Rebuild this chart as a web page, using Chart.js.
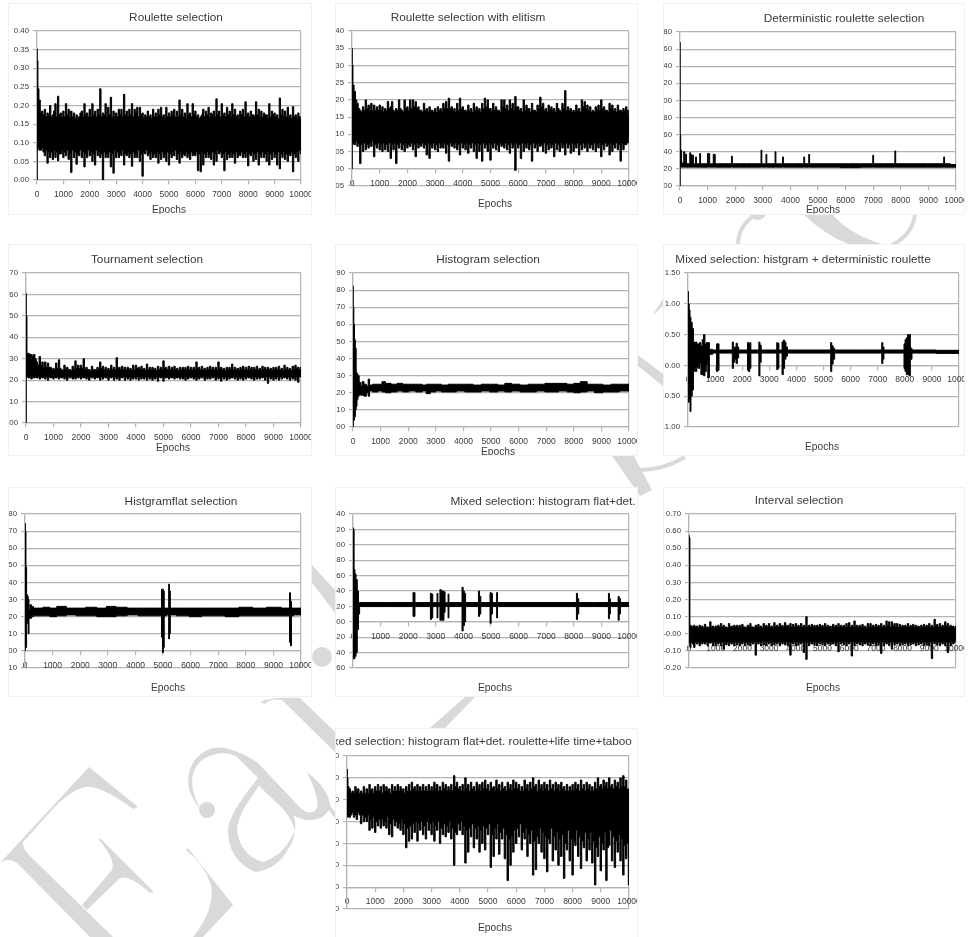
<!DOCTYPE html>
<html>
<head>
<meta charset="utf-8">
<title>Selection methods</title>
<script src="https://cdn.jsdelivr.net/npm/chart.js@4/dist/chart.umd.min.js"></script>
<style>
  html, body { margin: 0; background: #fff; }
  #page { position: relative; width: 969px; height: 937px; overflow: hidden; background: #fff; }
  #mark { position: absolute; left: 0; top: 0; }
  canvas { position: absolute; background: #fff; outline: 1px solid #f1f1f1; outline-offset: -1px; filter: blur(.3px); }
</style>
</head>
<body>
<div id="page">
  <svg id="mark" width="969" height="937" aria-hidden="true" fill="#d9d9d9">
    <path d="M0 863L89 767L138 807L133 809Q100 785 85 787Q70 790 50 812L23 842Q22 848 30 856L113 937L90 937L20 866Q10 856 0 863Z"/>
    <path d="M100 838L154 892L150 893Q130 875 120 878L87 910L82 905L112 870Q116 860 99 840Z"/>
    <path d="M188 848L233 905L203 937L193 937Q215 910 211 885Q205 865 186 850Z"/>
    <circle cx="207" cy="810" r="8"/>
    <path d="M201 810Q188 795 188 780Q190 755 213 748Q230 745 257 762L293 800Q305 815 312 812Q325 810 307 772Q330 790 330 807Q325 820 310 820Q300 820 293 815L258 778L237 757Q225 750 213 755Q194 760 192 780Q192 795 201 810Z"/>
    <path fill-rule="evenodd" d="M258 778Q228 815 228 830Q228 860 255 872Q280 870 293 840Q300 820 287 805ZM259 786Q237 815 237 830Q240 855 263 862Q285 855 295 830Q290 815 279 805Z"/>
    <path d="M260 702Q270 697 300 698L335 732L335 752L282 700Q270 698 265 704Z"/>
    <path d="M312 565L335 590L335 613L320 593L312 583Z"/>
    <circle cx="322" cy="657" r="10"/>
    <path d="M430 728L465 697L475 697L445 728Z"/>
    <path d="M320 792L335 812L335 818L320 800Z"/>
    <circle cx="758" cy="212" r="8"/>
    <path d="M803 214L832 214Q850 235 885 245L850 245Q825 235 803 214Z"/>
    <path d="M652 316L663 299L663 306Z"/>
    <path d="M638 355L663 374L663 386L638 366Z"/>
    <path d="M612 456L634 456L652 490L640 496Z"/>
    <g fill="none" stroke="#d9d9d9" stroke-width="4">
      <path d="M752 217Q738 228 738 245"/>
      <path d="M915 215Q912 235 892 245"/>
      <path d="M632 470Q660 472 685 457"/>
    </g>
  </svg>
</div>
<script>
// x positions shared by the noisy runs, one row per 500 epochs
const epochsDense = [
  0,20,50,100,150,200,250,300,350,400,450,
  500,550,600,650,700,750,800,850,900,950,
  1000,1050,1100,1150,1200,1250,1300,1350,1400,1450,
  1500,1550,1600,1650,1700,1750,1800,1850,1900,1950,
  2000,2050,2100,2150,2200,2250,2300,2350,2400,2450,
  2500,2550,2600,2650,2700,2750,2800,2850,2900,2950,
  3000,3050,3100,3150,3200,3250,3300,3350,3400,3450,
  3500,3550,3600,3650,3700,3750,3800,3850,3900,3950,
  4000,4050,4100,4150,4200,4250,4300,4350,4400,4450,
  4500,4550,4600,4650,4700,4750,4800,4850,4900,4950,
  5000,5050,5100,5150,5200,5250,5300,5350,5400,5450,
  5500,5550,5600,5650,5700,5750,5800,5850,5900,5950,
  6000,6050,6100,6150,6200,6250,6300,6350,6400,6450,
  6500,6550,6600,6650,6700,6750,6800,6850,6900,6950,
  7000,7050,7100,7150,7200,7250,7300,7350,7400,7450,
  7500,7550,7600,7650,7700,7750,7800,7850,7900,7950,
  8000,8050,8100,8150,8200,8250,8300,8350,8400,8450,
  8500,8550,8600,8650,8700,8750,8800,8850,8900,8950,
  9000,9050,9100,9150,9200,9250,9300,9350,9400,9450,
  9500,9550,9600,9650,9700,9750,9800,9850,9900,9950,
  10000];

// Roulette selection
const rouletteHi = [
  .352,.32,.245,.215,.18,.185,.175,.19,.17,.18,.175,
  .2,.17,.175,.185,.205,.17,.225,.175,.18,.17,
  .185,.17,.205,.175,.19,.17,.185,.17,.18,.165,
  .175,.165,.17,.18,.185,.17,.205,.175,.18,.17,
  .19,.17,.205,.175,.185,.17,.19,.175,.245,.17,
  .18,.175,.205,.17,.195,.175,.222,.17,.185,.17,
  .18,.17,.19,.175,.19,.17,.23,.175,.185,.17,
  .19,.175,.205,.17,.19,.18,.195,.17,.195,.175,
  .18,.165,.175,.17,.185,.17,.175,.165,.19,.17,
  .18,.17,.19,.175,.195,.17,.175,.165,.195,.17,
  .18,.17,.185,.175,.19,.17,.185,.17,.215,.175,
  .19,.17,.18,.165,.205,.175,.18,.17,.205,.175,
  .185,.17,.175,.165,.17,.175,.19,.17,.185,.175,
  .195,.17,.18,.175,.185,.17,.218,.175,.185,.17,
  .205,.175,.18,.17,.195,.175,.185,.17,.205,.175,
  .19,.17,.175,.165,.185,.175,.19,.17,.21,.175,
  .18,.17,.185,.175,.175,.17,.21,.175,.19,.17,
  .185,.17,.18,.175,.175,.165,.205,.17,.185,.175,
  .18,.17,.175,.165,.22,.175,.19,.17,.185,.17,
  .195,.17,.175,.165,.197,.17,.175,.165,.18,.17,
  .16];
const rouletteLo = [
  0,.08,.085,.08,.08,.085,.075,.065,.08,.045,.075,
  .06,.075,.055,.08,.06,.075,.052,.07,.07,.08,
  .06,.075,.065,.08,.055,.07,.02,.08,.06,.075,
  .042,.07,.065,.08,.06,.075,.035,.07,.06,.08,
  .065,.075,.05,.07,.04,.08,.065,.075,.06,.07,
  0,.075,.06,.07,.06,.075,.035,.07,.018,.08,
  .06,.075,.06,.07,.065,.08,.04,.07,.065,.075,
  .06,.07,.037,.075,.06,.07,.06,.08,.05,.07,
  .01,.075,.07,.08,.065,.07,.055,.075,.06,.07,
  .06,.075,.045,.07,.055,.075,.06,.07,.05,.075,
  .04,.07,.06,.075,.065,.08,.055,.07,.045,.075,
  .06,.07,.065,.075,.06,.07,.055,.075,.065,.07,
  .065,.075,.025,.07,.022,.075,.04,.07,.06,.075,
  .06,.07,.055,.075,.04,.07,.05,.08,.07,.075,
  .06,.07,.025,.075,.055,.07,.06,.075,.06,.07,
  .045,.075,.06,.07,.065,.075,.06,.07,.06,.075,
  .038,.07,.065,.075,.05,.07,.055,.075,.04,.07,
  .06,.075,.06,.07,.05,.075,.04,.07,.055,.075,
  .06,.07,.04,.075,.03,.07,.06,.075,.055,.07,
  .05,.07,.065,.075,.022,.07,.06,.075,.05,.08,
  .07];

// Roulette selection with elitism
const elitismHi = [
  .35,.3,.243,.225,.2,.19,.175,.17,.165,.18,.17,
  .2,.175,.185,.17,.19,.17,.185,.17,.18,.17,
  .185,.17,.18,.165,.175,.17,.195,.175,.18,.195,
  .17,.165,.175,.17,.2,.175,.17,.165,.2,.175,
  .18,.17,.2,.175,.2,.18,.195,.175,.18,.17,
  .17,.165,.19,.17,.175,.165,.18,.17,.17,.165,
  .175,.165,.18,.17,.175,.165,.19,.175,.195,.175,
  .205,.175,.18,.17,.175,.165,.19,.17,.205,.175,
  .18,.17,.17,.165,.185,.17,.175,.165,.19,.17,
  .18,.17,.175,.165,.19,.175,.205,.18,.2,.175,
  .175,.165,.19,.17,.18,.17,.17,.165,.2,.18,
  .2,.175,.185,.17,.2,.175,.19,.17,.21,.18,
  .18,.17,.175,.165,.2,.17,.185,.175,.175,.165,
  .19,.17,.17,.165,.185,.175,.208,.18,.19,.17,
  .175,.165,.185,.17,.18,.17,.175,.165,.19,.175,
  .17,.165,.19,.175,.227,.17,.18,.17,.175,.165,
  .17,.165,.185,.17,.175,.165,.2,.18,.195,.175,
  .185,.17,.18,.165,.17,.165,.18,.17,.185,.17,
  .2,.175,.18,.17,.17,.165,.19,.175,.185,.17,
  .175,.165,.185,.17,.17,.165,.175,.17,.18,.17,
  .15];
const elitismLo = [
  0,.07,.075,.07,.08,.065,.075,.015,.07,.05,.075,
  .055,.07,.06,.075,.065,.08,.035,.07,.06,.075,
  .055,.07,.05,.075,.055,.07,.05,.075,.03,.07,
  .055,.075,.015,.07,.06,.075,.055,.07,.05,.075,
  .06,.07,.065,.075,.055,.07,.035,.075,.06,.07,
  .065,.075,.06,.07,.04,.075,.03,.07,.06,.075,
  .055,.07,.05,.075,.06,.07,.06,.075,.045,.07,
  .022,.075,.065,.07,.06,.075,.055,.07,.04,.075,
  .06,.07,.055,.075,.045,.07,.06,.075,.05,.07,
  .03,.075,.05,.07,.022,.075,.06,.07,.05,.075,
  .025,.07,.06,.075,.055,.07,.05,.075,.065,.07,
  .06,.075,.055,.07,.045,.075,.06,.07,-.005,.075,
  .06,.07,.03,.075,.05,.07,.06,.075,.055,.07,
  .022,.075,.06,.07,.05,.075,.065,.07,.05,.075,
  .045,.07,.055,.075,.06,.07,.035,.075,.055,.07,
  .05,.075,.06,.07,.04,.075,.06,.07,.045,.075,
  .05,.07,.06,.075,.04,.07,.055,.075,.06,.07,
  .05,.075,.06,.07,.055,.075,.05,.07,.06,.075,
  .035,.07,.055,.075,.065,.07,.04,.075,.05,.07,
  .06,.075,.055,.07,.022,.075,.055,.07,.07,.075,
  .09];

// Deterministic roulette selection
const deterministicX = [
  0,15,35,50,65,110,160,190,220,250,
  340,370,400,440,470,500,550,580,610,700,
  730,760,980,1010,1035,1060,1090,1190,1220,1260,
  1290,1850,1880,1910,2400,2600,2920,2950,2980,3100,
  3130,3160,3430,3460,3490,3700,3730,3760,4470,4500,
  4530,4650,4680,4710,5500,6100,6970,7000,7030,7770,
  7800,7830,8400,9540,9570,9600,10000];
const deterministicHi = [
  1.68,.6,.3,.42,.27,.27,.4,.27,.37,.26,
  .26,.39,.37,.26,.36,.26,.26,.34,.26,.26,
  .38,.26,.26,.38,.27,.38,.26,.26,.37,.37,
  .26,.26,.35,.26,.26,.26,.26,.42,.26,.26,
  .37,.26,.26,.4,.26,.26,.34,.26,.26,.34,
  .26,.26,.37,.26,.26,.26,.26,.36,.26,.26,
  .41,.26,.26,.26,.34,.26,.25];
const deterministicLo = [
  0,.22,.22,.22,.22,.22,.22,.22,.22,.22,
  .22,.22,.22,.22,.22,.22,.22,.22,.22,.22,
  .22,.22,.22,.22,.22,.22,.22,.22,.22,.22,
  .22,.22,.22,.22,.22,.22,.22,.22,.22,.22,
  .22,.22,.22,.22,.22,.22,.22,.22,.22,.22,
  .22,.22,.22,.22,.22,.215,.22,.22,.22,.22,
  .22,.22,.22,.22,.22,.22,.22];

// Tournament selection
const tournamentHi = [
  .605,.5,.325,.325,.32,.32,.31,.32,.3,.285,.27,
  .31,.27,.285,.26,.285,.26,.28,.26,.26,.25,
  .255,.25,.28,.255,.295,.255,.25,.245,.27,.25,
  .26,.25,.25,.245,.265,.25,.29,.255,.27,.255,
  .27,.255,.3,.25,.26,.25,.25,.245,.265,.25,
  .25,.245,.26,.25,.285,.255,.265,.25,.26,.25,
  .255,.245,.27,.25,.26,.25,.305,.255,.26,.25,
  .265,.25,.26,.25,.26,.25,.255,.245,.27,.25,
  .27,.255,.26,.25,.265,.25,.255,.245,.275,.25,
  .26,.25,.26,.25,.255,.245,.265,.25,.26,.25,
  .29,.255,.26,.25,.265,.25,.26,.25,.265,.25,
  .255,.245,.26,.25,.26,.25,.26,.25,.265,.25,
  .26,.25,.26,.25,.285,.255,.26,.25,.265,.25,
  .255,.245,.26,.25,.265,.25,.26,.25,.26,.25,
  .285,.255,.26,.25,.255,.245,.26,.25,.26,.25,
  .275,.25,.26,.25,.255,.245,.26,.25,.265,.25,
  .26,.25,.265,.25,.26,.25,.26,.25,.265,.25,
  .255,.245,.265,.25,.26,.25,.26,.25,.255,.245,
  .26,.25,.26,.25,.265,.25,.255,.245,.27,.25,
  .26,.25,.255,.245,.265,.25,.27,.255,.26,.25,
  .26];
const tournamentLo = [
  0,.22,.215,.21,.215,.205,.215,.21,.215,.21,.215,
  .205,.215,.21,.215,.205,.215,.2,.215,.21,.215,
  .205,.215,.21,.215,.205,.215,.21,.215,.205,.215,
  .2,.215,.21,.215,.205,.215,.205,.215,.21,.215,
  .205,.215,.21,.215,.205,.215,.2,.215,.21,.215,
  .205,.215,.21,.215,.2,.215,.205,.215,.21,.215,
  .2,.215,.21,.215,.2,.215,.205,.215,.2,.215,
  .21,.215,.2,.215,.205,.215,.2,.215,.205,.215,
  .205,.215,.2,.215,.205,.215,.205,.215,.2,.215,
  .205,.215,.2,.215,.205,.215,.195,.215,.21,.215,
  .195,.215,.21,.215,.205,.215,.21,.215,.205,.215,
  .21,.215,.205,.215,.205,.215,.2,.215,.205,.215,
  .21,.215,.205,.215,.2,.215,.205,.215,.21,.215,
  .2,.215,.205,.215,.205,.215,.21,.215,.2,.215,
  .205,.215,.195,.215,.205,.215,.2,.215,.205,.215,
  .21,.215,.205,.215,.2,.215,.205,.215,.2,.215,
  .205,.215,.21,.215,.205,.215,.2,.215,.205,.215,
  .205,.215,.21,.215,.2,.215,.185,.215,.205,.215,
  .2,.215,.205,.215,.2,.215,.205,.215,.21,.215,
  .205,.215,.2,.215,.205,.215,.2,.215,.19,.215,
  .215];

// Histogram selection
const histogramX = [
  0,20,40,70,100,130,160,200,250,300,
  350,450,520,580,620,800,1000,1100,1250,1500,
  1700,1900,2150,2400,2600,2700,2900,3100,3300,3600,
  3900,4200,4500,4800,5100,5400,5600,5900,6200,6500,
  6800,7100,7300,7600,7900,8100,8370,8600,8900,9200,
  9500,9800,10000];
const histogramHi = [
  .825,.7,.6,.51,.46,.32,.31,.3,.26,.24,
  .265,.25,.24,.28,.245,.25,.25,.265,.255,.25,
  .255,.25,.25,.25,.245,.25,.25,.25,.245,.25,
  .25,.25,.245,.25,.25,.245,.255,.25,.245,.25,
  .25,.255,.255,.255,.25,.255,.265,.25,.25,.245,
  .25,.25,.25];
const histogramLo = [
  0,.05,.04,.06,.1,.12,.16,.18,.19,.185,
  .185,.18,.2,.18,.21,.205,.21,.205,.2,.205,
  .21,.205,.21,.205,.21,.195,.205,.21,.205,.205,
  .21,.205,.205,.21,.205,.21,.205,.21,.205,.205,
  .21,.205,.205,.21,.205,.2,.205,.21,.2,.205,
  .205,.21,.21];

// Mixed selection: histgram + deterministic roulette
const mixedDetX = [
  0,30,60,90,130,180,220,260,300,350,
  400,450,500,550,600,650,700,760,820,1000,
  1040,1070,1110,1180,1620,1650,1700,1750,1800,1840,
  1900,2180,2210,2260,2300,2340,2600,2630,2680,2720,
  2800,3260,3290,3340,3370,3450,3490,3540,3590,3640,
  3700,5250,5280,5330,5380,5440,7130,7170,7210,7250,
  7950,7990,8030,8080,8130,8180,8230,8300,10000];
const mixedDetHi = [
  1.2,1,.9,.78,.7,.6,.38,.36,.38,.35,
  .35,.37,.32,.42,.5,.35,.37,.37,.26,.25,
  .25,.35,.35,.25,.25,.38,.28,.3,.36,.3,
  .25,.25,.37,.36,.37,.25,.25,.38,.33,.25,
  .25,.25,.37,.36,.25,.25,.38,.41,.38,.3,
  .25,.25,.37,.32,.28,.25,.25,.37,.3,.25,
  .25,.35,.42,.45,.5,.5,.28,.25,.245];
const mixedDetLo = [
  -.3,-.6,-.55,-.75,-.5,-.4,-.1,-.05,-.1,-.03,
  -.05,.03,-.15,-.15,-.17,-.1,.02,-.2,.18,.2,
  .2,-.1,-.08,.2,.2,-.05,.05,.1,.03,.12,
  .2,.2,-.08,-.1,-.05,.2,.2,-.17,.05,.2,
  .2,.2,-.07,-.05,.2,.2,-.15,-.05,.1,.15,
  .2,.2,-.1,.02,.1,.2,.2,.03,.1,.2,
  .2,-.05,-.1,-.15,-.15,-.17,.1,.2,.195];

// Histgramflat selection
const flatX = [
  0,25,45,70,100,130,160,200,260,350,
  500,800,1000,1300,1700,2000,2400,2800,3100,3500,
  3900,4300,4700,4930,4960,5000,5030,5060,5190,5220,
  5250,5280,5700,6200,6600,7000,7500,8000,8500,9000,
  9570,9600,9640,9670,9800,10000];
const flatHi = [
  .745,.7,.49,.33,.32,.3,.24,.27,.26,.25,
  .25,.255,.25,.26,.25,.25,.255,.25,.26,.255,
  .25,.25,.25,.25,.36,.36,.35,.25,.25,.39,
  .35,.25,.25,.25,.25,.25,.25,.255,.25,.255,
  .25,.34,.29,.25,.25,.25];
const flatLo = [
  0,.04,.02,.18,.16,.1,.19,.19,.2,.205,
  .205,.205,.2,.205,.21,.205,.205,.2,.2,.205,
  .21,.205,.205,.205,.08,-.01,.02,.205,.21,.07,
  .1,.21,.205,.2,.205,.205,.2,.205,.205,.205,
  .205,.05,.03,.205,.21,.21];

// Mixed selection: histogram flat+det.
const mixedFlatX = [
  0,30,50,90,130,180,220,260,2160,2190,
  2230,2260,2790,2820,2870,2910,2940,3030,3060,3090,
  3130,3170,3220,3270,3320,3350,3430,3460,3490,3930,
  3970,4010,4060,4100,4530,4560,4610,4650,4950,4980,
  5030,5070,5190,5220,5250,8080,8110,8160,8200,9240,
  9270,9310,9340,9590,9620,9670,9710,10000];
const mixedFlatHi = [
  1.22,1.2,.68,.62,.55,.4,.25,.25,.25,.38,
  .38,.25,.25,.37,.36,.25,.25,.25,.37,.25,
  .25,.42,.4,.4,.39,.25,.25,.36,.25,.25,
  .45,.4,.37,.25,.25,.4,.33,.25,.25,.38,
  .37,.25,.25,.38,.25,.25,.37,.3,.25,.25,
  .37,.3,.25,.25,.33,.3,.25,.25];
const mixedFlatLo = [
  -.48,-.48,-.48,-.45,-.4,-.1,.1,.2,.2,.07,
  .07,.2,.2,.03,.05,.2,.2,.2,.05,.2,
  .2,.02,.02,.02,.12,.2,.2,.05,.2,.2,
  -.12,-.05,0,.2,.2,.07,.1,.2,.2,-.02,
  .1,.2,.2,.05,.2,.2,.03,.1,.2,.2,
  .04,.1,.2,.2,.02,.1,.2,.2];

// Interval selection
const intervalHi = [
  .575,.56,.05,.045,.04,.05,.04,.045,.035,.05,.04,
  .045,.035,.055,.04,.04,.035,.07,.04,.045,.035,
  .045,.035,.05,.04,.06,.04,.05,.04,.04,.035,
  .06,.04,.045,.035,.05,.04,.05,.04,.05,.035,
  .055,.04,.04,.035,.05,.04,.06,.04,.04,.035,
  .05,.04,.055,.04,.045,.035,.06,.04,.05,.04,
  .06,.04,.045,.035,.065,.04,.05,.04,.06,.04,
  .05,.04,.065,.045,.05,.04,.06,.04,.055,.04,
  .06,.04,.05,.04,.06,.04,.05,.04,.1,.04,
  .05,.04,.055,.04,.05,.04,.05,.04,.055,.04,
  .05,.04,.06,.04,.05,.04,.045,.035,.055,.04,
  .05,.04,.06,.04,.05,.04,.05,.04,.06,.04,
  .065,.04,.05,.04,.075,.04,.05,.04,.05,.04,
  .055,.04,.045,.035,.06,.04,.06,.04,.05,.04,
  .055,.04,.05,.04,.06,.04,.05,.04,.075,.045,
  .07,.04,.07,.045,.06,.04,.06,.04,.055,.04,
  .05,.04,.05,.04,.06,.04,.05,.04,.055,.04,
  .05,.04,.045,.035,.05,.04,.055,.04,.05,.04,
  .06,.04,.05,.04,.085,.045,.055,.04,.06,.04,
  .05,.04,.07,.045,.06,.04,.05,.04,.045,.035,
  .045];
const intervalLo = [
  -.06,-.05,-.08,-.05,-.06,-.08,-.05,-.06,-.05,-.07,-.05,
  -.06,-.05,-.06,-.05,-.07,-.05,-.055,-.05,-.07,-.05,
  -.07,-.05,-.06,-.05,-.07,-.05,-.09,-.05,-.065,-.05,
  -.07,-.05,-.06,-.05,-.07,-.05,-.065,-.05,-.07,-.05,
  -.06,-.05,-.07,-.05,-.065,-.05,-.07,-.05,-.06,-.05,
  -.125,-.05,-.06,-.05,-.07,-.05,-.065,-.05,-.07,-.05,
  -.06,-.05,-.07,-.05,-.065,-.05,-.06,-.05,-.07,-.05,
  -.06,-.05,-.065,-.05,-.07,-.05,-.125,-.05,-.06,-.05,
  -.07,-.05,-.065,-.05,-.06,-.05,-.11,-.05,-.15,-.05,
  -.07,-.05,-.06,-.05,-.065,-.05,-.07,-.05,-.06,-.05,
  -.065,-.05,-.07,-.05,-.06,-.05,-.065,-.05,-.06,-.05,
  -.07,-.05,-.105,-.05,-.06,-.05,-.065,-.05,-.07,-.05,
  -.06,-.05,-.13,-.05,-.07,-.05,-.06,-.05,-.065,-.05,
  -.07,-.05,-.06,-.05,-.065,-.05,-.07,-.05,-.06,-.05,
  -.07,-.05,-.065,-.05,-.115,-.05,-.07,-.05,-.06,-.05,
  -.07,-.05,-.09,-.05,-.065,-.05,-.06,-.05,-.07,-.05,
  -.065,-.05,-.06,-.05,-.07,-.05,-.065,-.05,-.06,-.05,
  -.07,-.05,-.065,-.05,-.06,-.05,-.07,-.05,-.065,-.05,
  -.07,-.05,-.145,-.05,-.06,-.05,-.065,-.05,-.07,-.05,
  -.06,-.05,-.07,-.05,-.11,-.05,-.07,-.05,-.06,-.05,
  -.03];

// Mixed selection: histogram flat+det. roulette+life time+taboo
const tabooHi = [
  .54,.5,.46,.45,.43,.44,.43,.46,.44,.45,.43,
  .44,.43,.46,.43,.45,.43,.47,.44,.45,.43,
  .46,.44,.47,.44,.46,.43,.47,.44,.46,.44,
  .45,.43,.47,.44,.46,.44,.47,.44,.46,.44,
  .45,.43,.46,.44,.47,.44,.48,.45,.46,.44,
  .47,.44,.46,.44,.47,.44,.46,.44,.47,.44,
  .46,.44,.48,.45,.47,.44,.46,.44,.48,.45,
  .47,.44,.46,.44,.47,.44,.51,.46,.48,.45,
  .46,.44,.47,.44,.5,.45,.47,.44,.48,.45,
  .46,.44,.48,.45,.47,.44,.48,.45,.49,.45,
  .47,.44,.48,.45,.46,.44,.49,.45,.47,.44,
  .48,.45,.46,.44,.48,.45,.47,.44,.49,.45,
  .48,.45,.47,.44,.46,.44,.49,.45,.47,.44,
  .48,.45,.5,.46,.47,.44,.49,.45,.47,.44,
  .48,.45,.47,.44,.49,.45,.47,.44,.48,.45,
  .47,.44,.48,.45,.46,.44,.47,.44,.46,.44,
  .47,.44,.48,.45,.47,.44,.49,.45,.47,.44,
  .48,.45,.47,.44,.46,.44,.48,.45,.5,.46,
  .47,.45,.49,.46,.48,.45,.5,.46,.47,.45,
  .49,.46,.48,.45,.5,.46,.51,.46,.49,.45,
  .44];
const tabooLo = [
  .32,.33,.32,.32,.33,.34,.32,.33,.31,.34,.33,
  .29,.33,.3,.32,.3,.33,.26,.31,.27,.32,
  .25,.3,.28,.31,.27,.31,.28,.3,.27,.32,
  .24,.29,.23,.31,.28,.3,.27,.29,.26,.31,
  .24,.29,.18,.27,.21,.28,.22,.29,.25,.3,
  .21,.29,.26,.3,.24,.28,.22,.3,.26,.29,
  .24,.3,.21,.28,.26,.3,.2,.27,.24,.29,
  .23,.28,.25,.3,.22,.27,.1,.25,.24,.29,
  .26,.3,.24,.28,.11,.26,.16,.27,.23,.29,
  .18,.27,.22,.28,.16,.26,.2,.28,.17,.27,
  .24,.29,.09,.24,.14,.27,.22,.29,.15,.25,
  .22,.27,.13,.24,.03,.22,.1,.23,.16,.26,
  .2,.27,.23,.29,.17,.25,.22,.27,.14,.24,
  .2,.26,.055,.21,.08,.23,.2,.27,.16,.25,
  .13,.23,.07,.22,.2,.27,.12,.23,.17,.25,
  .1,.22,.14,.24,.04,.2,.17,.26,.12,.22,
  .055,.21,.19,.26,.14,.23,.085,.21,.18,.25,
  .12,.22,.17,.25,.11,.21,.01,.18,.14,.23,
  .075,.2,.17,.25,.03,.18,.19,.26,.12,.23,
  .09,.21,.16,.24,.12,.22,.055,.19,.13,.2,
  .01];

// one row per chart: text, values, scale, then where it sits on the page
const panels = [
  { title: "Roulette selection", xs: epochsDense, hi: rouletteHi, lo: rouletteLo, yMin: 0, yMax: .4, step: .05,
    box: [8,3,304,212], plot: [37,31,301,180], titleAt: [176,18], labelAt: [169,210] },
  { title: "Roulette selection with elitism", xs: epochsDense, hi: elitismHi, lo: elitismLo, yMin: -.05, yMax: .4, step: .05,
    box: [335,3,303,212], plot: [352,31,629,186], titleAt: [468,18], labelAt: [495,204] },
  { title: "Deterministic roulette selection", xs: deterministicX, hi: deterministicHi, lo: deterministicLo, yMin: 0, yMax: 1.8, step: .2,
    box: [663,3,302,212], plot: [680,32,956,186], titleAt: [844,19], labelAt: [823,210] },
  { title: "Tournament selection", xs: epochsDense, hi: tournamentHi, lo: tournamentLo, yMin: 0, yMax: .7, step: .1,
    box: [8,244,304,212], plot: [26,273,301,423], titleAt: [147,260], labelAt: [173,448] },
  { title: "Histogram selection", xs: histogramX, hi: histogramHi, lo: histogramLo, yMin: 0, yMax: .9, step: .1,
    box: [335,244,303,212], plot: [353,273,629,427], titleAt: [488,260], labelAt: [498,452] },
  { title: "Mixed selection: histgram + deterministic roulette", xs: mixedDetX, hi: mixedDetHi, lo: mixedDetLo, yMin: -1, yMax: 1.5, step: .5,
    box: [663,244,302,212], plot: [688,273,959,427], titleAt: [803,260], labelAt: [822,447] },
  { title: "Histgramflat selection", xs: flatX, hi: flatHi, lo: flatLo, yMin: -.1, yMax: .8, step: .1,
    box: [8,487,304,210], plot: [25,514,301,668], titleAt: [181,502], labelAt: [168,688] },
  { title: "Mixed selection: histogram flat+det.", xs: mixedFlatX, hi: mixedFlatHi, lo: mixedFlatLo, yMin: -.6, yMax: 1.4, step: .2,
    box: [335,487,303,210], plot: [353,514,629,668], titleAt: [543,502], labelAt: [495,688] },
  { title: "Interval selection", xs: epochsDense, hi: intervalHi, lo: intervalLo, yMin: -.2, yMax: .7, step: .1,
    box: [663,487,302,210], plot: [689,514,956,668], titleAt: [799,501], labelAt: [823,688] },
  { title: "Mixed selection: histogram flat+det. roulette+life time+taboo", xs: epochsDense, hi: tabooHi, lo: tabooLo, yMin: -.1, yMax: .6, step: .1,
    box: [335,728,303,212], plot: [347,756,629,909], titleAt: [476,742], labelAt: [495,928] }
];

const GRID = "#b3b3b3";
const TEXT = "#3a3a3a";
const TITLE_SIZE = 11.8;
const LABEL_SIZE = 10.2;

Chart.defaults.font.family = '"Liberation Sans", sans-serif';

// moves the title and the axis caption to where they sit in the reference
const placeText = {
  id: "placeText",
  afterLayout(chart, args, opts) {
    chart.boxes.forEach(b => {
      if (!b.options || !b.options.text) return;
      const cx = b.options.text === "Epochs" ? opts.labelX : opts.titleX;
      b.left = cx - 300;
      b.right = cx + 300;
    });
  }
};

panels.forEach(p => {
  const [bx, by, bw, bh] = p.box;
  const [left, top, right, bottom] = p.plot;

  const canvas = document.createElement("canvas");
  canvas.width = bw;
  canvas.height = bh;
  canvas.style.left = bx + "px";
  canvas.style.top = by + "px";
  document.getElementById("page").appendChild(canvas);

  const titleTop = p.titleAt[1] - TITLE_SIZE / 2 - by;
  const labelTop = p.labelAt[1] - LABEL_SIZE / 2 - bottom;

  new Chart(canvas, {
    type: "line",
    data: {
      datasets: [
        { data: p.xs.map((x, i) => ({ x, y: p.hi[i] })), fill: "+1", backgroundColor: "#000", stepped: "middle",
          borderColor: "#000", borderWidth: 1, pointRadius: 0 },
        { data: p.xs.map((x, i) => ({ x, y: p.lo[i] })), fill: false, stepped: "middle",
          borderColor: "#000", borderWidth: 1, pointRadius: 0 }
      ]
    },
    options: {
      responsive: false,
      animation: false,
      devicePixelRatio: 1,
      layout: { padding: { left: 0, top: 0, bottom: 0, right: bx + bw - right } },
      plugins: {
        legend: { display: false },
        tooltip: { enabled: false },
        title: {
          display: true, text: p.title, color: TEXT,
          font: { size: TITLE_SIZE, weight: "normal", lineHeight: 1 },
          padding: { top: titleTop, bottom: top - by - titleTop - TITLE_SIZE }
        },
        subtitle: {
          display: true, text: "Epochs", position: "bottom", color: TEXT,
          font: { size: LABEL_SIZE, weight: "normal", lineHeight: 1 },
          padding: { top: labelTop, bottom: by + bh - bottom - labelTop - LABEL_SIZE }
        },
        placeText: { titleX: p.titleAt[0] - bx, labelX: p.labelAt[0] - bx }
      },
      scales: {
        x: {
          type: "linear", min: 0, max: 10000,
          position: { y: 0 },
          afterFit(s) { s.height = 0; s.paddingLeft = 0; s.paddingRight = 0; },
          grid: {
            color: c => (c.tick && (c.tick.value === 0 || c.tick.value === 10000)) ? GRID : "transparent",
            tickColor: GRID, lineWidth: 1.2, tickLength: 4
          },
          border: { color: GRID, width: 1.2 },
          ticks: { stepSize: 1000, autoSkip: false, maxRotation: 0, color: TEXT, padding: 5.5, font: { size: 8.5 }, callback: v => String(v) }
        },
        y: {
          min: p.yMin, max: p.yMax,
          afterFit(s) { s.width = left - bx; s.paddingTop = 0; s.paddingBottom = 0; },
          grid: { color: GRID, lineWidth: 1.2, tickLength: 4 },
          border: { color: GRID, width: 1.2 },
          ticks: { stepSize: p.step, color: TEXT, padding: 4, font: { size: 7.8 }, callback: v => v.toFixed(2) }
        }
      }
    },
    plugins: [placeText]
  });
});
</script>
</body>
</html>
